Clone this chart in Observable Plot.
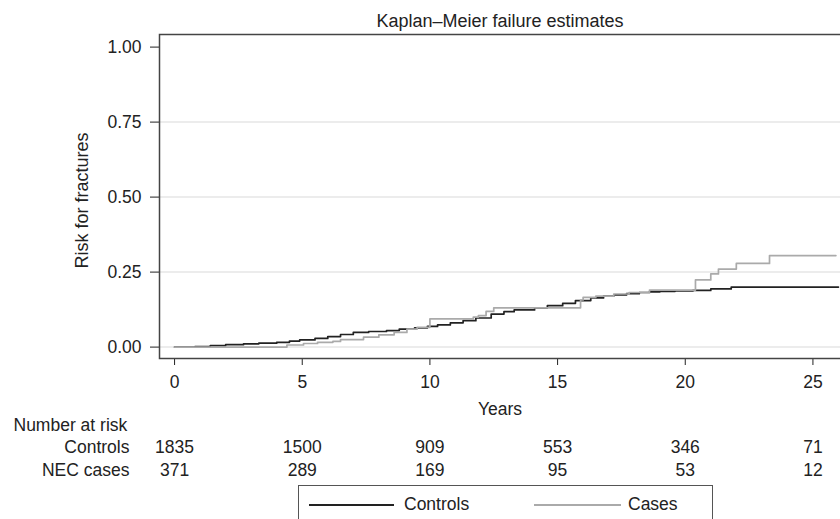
<!DOCTYPE html>
<html><head><meta charset="utf-8">
<script src="https://cdn.jsdelivr.net/npm/d3@7"></script>
<script src="https://cdn.jsdelivr.net/npm/@observablehq/plot@0.6"></script>
<style>
html,body{margin:0;padding:0;background:#fff;overflow:hidden;}
#chart{position:relative;width:840px;height:519px;font-family:"Liberation Sans",Arial,sans-serif;color:#222;}
.legend{position:absolute;left:298px;top:485px;width:415px;height:60px;border:1.5px solid #555;box-sizing:border-box;background:#fff;}
.sw{position:absolute;top:18px;height:0;}
.lt{position:absolute;top:6px;font-size:17.5px;line-height:24px;color:#222;}
</style></head><body><div id="chart"></div>
<script>
const title = "Kaplan–Meier failure estimates";
const yLabel = "Risk for fractures";
const xLabel = "Years";
const xTicks = [0, 5, 10, 15, 20, 25];
const yTicks = [0, 0.25, 0.5, 0.75, 1];
const gridValues = [0, 0.25, 0.5, 0.75];
const seriesNames = ["Controls", "Cases"];
const riskTitle = "Number at risk";
const riskRows = ["Controls", "NEC cases"];
const riskTimes = [0, 5, 10, 15, 20, 25];
const controlsRisk = [1835, 1500, 909, 553, 346, 71];
const casesRisk = [371, 289, 169, 95, 53, 12];

const controlsT = [0,0.8,1.4,2.0,2.7,3.3,4.0,4.5,4.9,5.5,6.0,6.5,7.0,7.6,8.3,8.8,9.4,9.9,10.3,10.8,11.3,11.8,12.4,12.9,13.3,14.1,14.6,15.2,15.7,16.3,16.8,17.2,17.7,18.2,18.6,19.0,19.6,20.3,21.0,21.8,26.0];
const controlsV = [0,0.002,0.005,0.008,0.011,0.013,0.016,0.02,0.024,0.029,0.035,0.042,0.049,0.052,0.055,0.06,0.064,0.069,0.074,0.081,0.088,0.097,0.11,0.118,0.124,0.131,0.138,0.146,0.155,0.164,0.17,0.174,0.178,0.182,0.184,0.186,0.187,0.189,0.194,0.2,0.2];
const casesT = [0,4.4,5.05,5.6,6.2,6.5,7.4,8.0,8.6,9.1,9.5,10.0,11.7,11.9,12.2,12.5,15.9,16.0,16.5,17.2,17.8,18.6,20.4,21.0,21.3,22.0,23.3,25.9];
const casesV = [0,0.007,0.012,0.016,0.019,0.025,0.033,0.041,0.049,0.06,0.066,0.094,0.1,0.105,0.119,0.131,0.157,0.166,0.17,0.177,0.182,0.19,0.224,0.244,0.26,0.279,0.305,0.305];

const controls = controlsT.map((t, i) => ({t, v: controlsV[i]}));
const cases = casesT.map((t, i) => ({t, v: casesV[i]}));

const font = "'Liberation Sans', Arial, sans-serif";
const ink = "#222";

const plot = Plot.plot({
  width: 840, height: 485,
  marginLeft: 159, marginTop: 34, marginRight: 0, marginBottom: 127,
  style: {fontFamily: font, fontSize: "17.5px", color: ink, background: "white", overflow: "visible"},
  x: {domain: [-0.59, 26.08], ticks: xTicks, tickSize: 7, tickPadding: 10, label: null},
  y: {domain: [-0.038, 1.042], ticks: yTicks, tickFormat: ".2f", tickSize: 9, tickPadding: 9, label: null},
  marks: [
    Plot.ruleY(gridValues, {stroke: "#e6e6e6", strokeWidth: 1.5}),
    Plot.frame({stroke: "#444", strokeWidth: 1.5, insetRight: -4}),
    Plot.line(controls, {x: "t", y: "v", curve: "step-after", stroke: "#222", strokeWidth: 1.7}),
    Plot.line(cases, {x: "t", y: "v", curve: "step-after", stroke: "#aaa", strokeWidth: 1.7}),
    Plot.text([title], {frameAnchor: "top", dy: -20, fontSize: 18, fill: ink}),
    Plot.text([yLabel], {frameAnchor: "left", textAnchor: "middle", dx: -77, dy: 4, rotate: -90, fontSize: 18, fill: ink}),
    Plot.text([xLabel], {frameAnchor: "bottom", dy: 56, fontSize: 17.5, fill: ink}),
    Plot.text([riskTitle], {frameAnchor: "bottom-left", dx: -146, dy: 72, textAnchor: "start", fill: ink}),
    Plot.text([riskRows[0]], {frameAnchor: "bottom-left", dx: -30, dy: 94, textAnchor: "end", fill: ink}),
    Plot.text([riskRows[1]], {frameAnchor: "bottom-left", dx: -30, dy: 117, textAnchor: "end", fill: ink}),
    Plot.text(riskTimes, {x: d => d, text: (d, i) => String(controlsRisk[i]), frameAnchor: "bottom", dy: 94, fill: ink}),
    Plot.text(riskTimes, {x: d => d, text: (d, i) => String(casesRisk[i]), frameAnchor: "bottom", dy: 117, fill: ink})
  ]
});
const chart = document.getElementById("chart");
chart.appendChild(plot);

const legend = document.createElement("div");
legend.className = "legend";
legend.innerHTML =
  `<div class="sw" style="left:10px;width:85px;border-top:2px solid #222"></div>` +
  `<div class="lt" style="left:105px">${seriesNames[0]}</div>` +
  `<div class="sw" style="left:235px;width:87px;border-top:2px solid #aaa"></div>` +
  `<div class="lt" style="left:329px">${seriesNames[1]}</div>`;
chart.appendChild(legend);
</script>
</body></html>
